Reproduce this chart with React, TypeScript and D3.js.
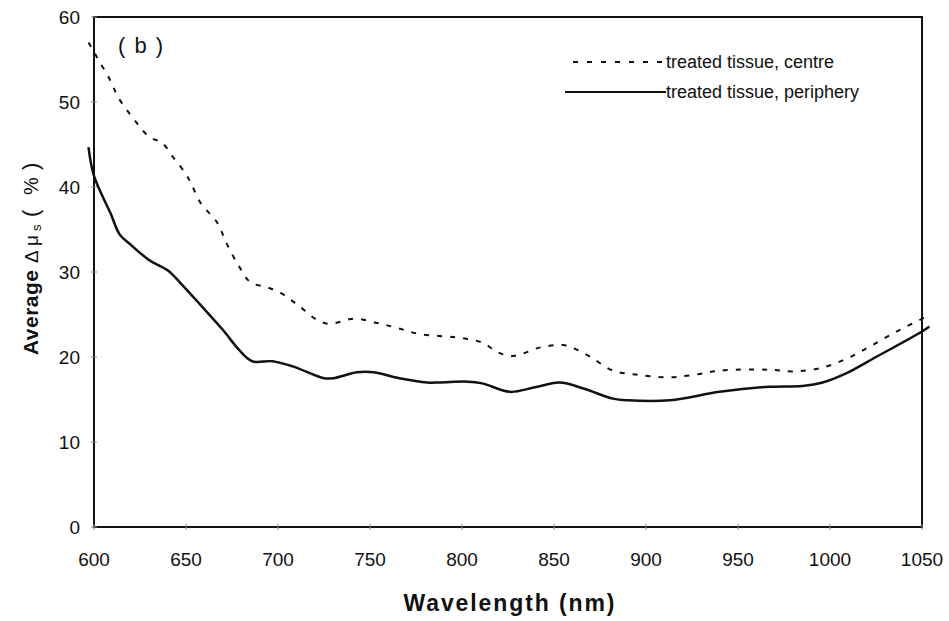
import React from "react";
import * as d3 from "d3";

const xTicks = [600, 650, 700, 750, 800, 850, 900, 950, 1000, 1050];
const yTicks = [0, 10, 20, 30, 40, 50, 60];

const centreWl = [597, 600, 603, 607, 610, 613, 623, 630, 637, 643, 650, 653, 658, 667, 672, 679, 685, 694, 701, 712, 721, 728, 741, 754, 765, 777, 797, 811, 819, 826, 833, 842, 855, 862, 870, 882, 896, 912, 926, 940, 967, 980, 995, 1009, 1023, 1038, 1054];
const centreVal = [57.0, 55.9, 54.7, 53.3, 52.0, 50.6, 47.6, 45.9, 45.2, 43.5, 41.5, 40.3, 38.1, 35.8, 33.4, 30.6, 28.8, 28.2, 27.6, 25.9, 24.4, 23.9, 24.5, 24.0, 23.4, 22.7, 22.3, 21.7, 20.6, 20.1, 20.4, 21.1, 21.4, 20.9, 20.0, 18.4, 17.9, 17.6, 17.9, 18.4, 18.5, 18.3, 18.7, 19.8, 21.4, 23.2, 24.9];

const periphWl = [597, 600, 609, 614, 620, 630, 640, 647, 658, 670, 679, 686, 697, 708, 725, 730, 743, 752, 766, 781, 788, 803, 811, 826, 839, 853, 866, 882, 890, 913, 940, 967, 985, 996, 1009, 1025, 1050, 1054];
const periphVal = [44.7, 41.3, 36.9, 34.4, 33.2, 31.4, 30.2, 28.7, 26.1, 23.2, 20.8, 19.5, 19.5, 18.9, 17.5, 17.5, 18.2, 18.2, 17.5, 17.0, 17.0, 17.1, 16.9, 15.9, 16.4, 17.0, 16.3, 15.1, 14.9, 14.9, 15.9, 16.5, 16.6, 17.0, 18.1, 20.0, 23.0, 23.6];

const legendLabels = ["treated tissue, centre", "treated tissue, periphery"];

const W = 949;
const H = 621;
const L = 94, R = 922, T = 17, B = 527;
const FONT = "'Liberation Sans', Arial, Helvetica, sans-serif";

export default function App() {
  const x = d3.scaleLinear().domain([600, 1050]).range([L, R]);
  const y = d3.scaleLinear().domain([0, 60]).range([B, T]);
  const line = d3
    .line<[number, number]>()
    .x((d) => x(d[0]))
    .y((d) => y(d[1]))
    .curve(d3.curveCatmullRom.alpha(0.5));
  const centre = centreWl.map((w, i) => [w, centreVal[i]] as [number, number]);
  const periph = periphWl.map((w, i) => [w, periphVal[i]] as [number, number]);

  return (
    <svg
      width={W}
      height={H}
      style={{ position: "absolute", left: 0, top: 0, background: "#fff" }}
      fontFamily={FONT}
    >
      <rect x={0} y={0} width={W} height={H} fill="#fff" />
      {/* frame */}
      <rect x={L} y={T} width={R - L} height={B - T} fill="none" stroke="#111" strokeWidth={2} />
      {/* ticks */}
      {xTicks.map((t) => (
        <line key={"xt" + t} x1={x(t)} x2={x(t)} y1={B - 3} y2={B + 3} stroke="#888" strokeWidth={1} />
      ))}
      {yTicks.map((t) => (
        <line key={"yt" + t} x1={L - 3} x2={L + 3} y1={y(t)} y2={y(t)} stroke="#888" strokeWidth={1} />
      ))}
      {/* tick labels */}
      {xTicks.map((t) => (
        <text key={"xl" + t} x={x(t)} y={566} textAnchor="middle" fontSize={19} fill="#111">
          {t}
        </text>
      ))}
      {yTicks.map((t) => (
        <text key={"yl" + t} x={80} y={y(t) + 7} textAnchor="end" fontSize={19} fill="#111">
          {t}
        </text>
      ))}
      {/* curves */}
      <path d={line(centre) || ""} fill="none" stroke="#111" strokeWidth={2} strokeDasharray="5,8" />
      <path d={line(periph) || ""} fill="none" stroke="#111" strokeWidth={2.5} />
      {/* panel label */}
      <text x={118} y={53} fontSize={22} fill="#111" textLength={45} lengthAdjust="spacing">( b )</text>
      {/* legend */}
      <line x1={573} x2={663} y1={62} y2={62} stroke="#111" strokeWidth={2} strokeDasharray="5,9" />
      <text x={666} y={68} fontSize={18} fill="#111">{legendLabels[0]}</text>
      <line x1={565} x2={666} y1={92} y2={92} stroke="#111" strokeWidth={2} />
      <text x={666} y={98} fontSize={18} fill="#111">{legendLabels[1]}</text>
      {/* axis titles */}
      <text x={509} y={611} textAnchor="middle" fontSize={23} fontWeight="bold" fill="#111" textLength={211} lengthAdjust="spacing">
        Wavelength (nm)
      </text>
      <g transform="translate(38, 355) rotate(-90)" fill="#111">
        <text x={0} y={0} fontSize={21} fontWeight="bold" textLength={85} lengthAdjust="spacing">Average</text>
        <text x={92} y={0} fontSize={19}>Δ</text>
        <text x={109} y={0} fontSize={19}>μ</text>
        <text x={124} y={3} fontSize={13}>s</text>
        <text x={138} y={0} fontSize={22}>(</text>
        <text x={160} y={0} fontSize={20}>%</text>
        <text x={185} y={0} fontSize={22}>)</text>
      </g>
    </svg>
  );
}
